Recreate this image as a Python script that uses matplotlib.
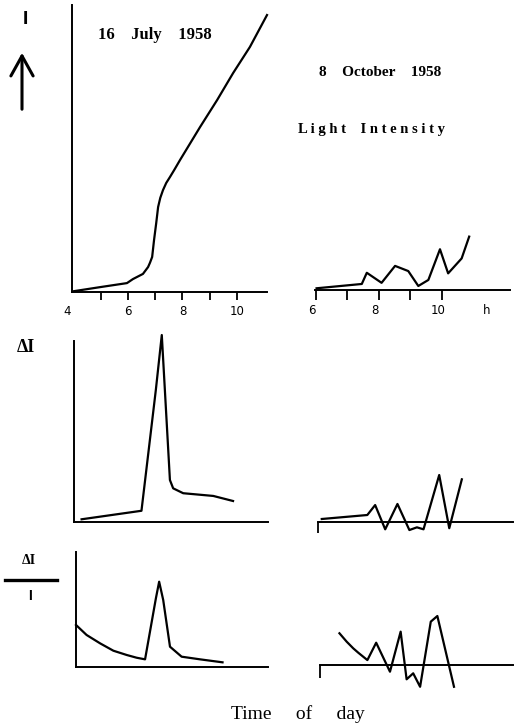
import matplotlib
matplotlib.use("Agg")
import matplotlib.pyplot as plt
from matplotlib.lines import Line2D

W, H = 518, 724

# 16 July 1958: light intensity I (arbitrary units) against time of day (h)
july_hours = [4.0, 4.96, 5.95, 6.17, 6.54, 6.73, 6.80, 6.88, 6.95, 7.03, 7.10,
              7.18, 7.28, 7.40, 7.54, 7.70, 7.91, 8.65, 9.28, 9.87, 10.49, 11.12]
july_intensity = [0.3, 1.7, 3.1, 4.5, 6.3, 8.7, 10.2, 12.2, 18.1, 24.0, 29.6,
                  32.8, 35.5, 38.0, 40.1, 42.6, 46.0, 57.5, 66.9, 76.3, 85.4, 96.5]
july_delta_hours = [4.28, 6.49, 7.02, 7.24, 7.54, 7.66, 8.03, 9.14, 9.87]
july_delta = [1.5, 6.2, 72.9, 103.3, 23.2, 18.6, 15.9, 14.4, 11.6]
july_rel_hours = [4.0, 4.39, 4.89, 5.38, 5.87, 6.24, 6.55, 6.95, 7.07,
                  7.22, 7.47, 7.90, 8.58, 9.41]
july_rel = [36.3, 27.6, 20.3, 13.9, 10.2, 7.8, 6.4, 59.5, 73.9,
            58.0, 17.4, 8.7, 6.4, 3.8]

# 8 October 1958
oct_hours = [6.02, 7.46, 7.62, 8.09, 8.52, 8.94, 9.26, 9.58, 9.95, 10.21, 10.64, 10.88]
oct_intensity = [0.6, 2.1, 6.0, 2.5, 8.4, 6.6, 1.4, 3.5, 14.2, 5.8, 11.0, 18.6]
oct_delta_hours = [6.15, 7.60, 7.85, 8.17, 8.56, 8.94, 9.18, 9.39, 9.89, 10.21, 10.61]
oct_delta = [1.5, 3.7, 9.2, -4.2, 9.8, -4.6, -3.1, -4.2, 25.8, -3.6, 23.4]
oct_rel_hours = [6.65, 6.88, 7.09, 7.25, 7.54, 7.82, 8.26, 8.60, 8.79,
                 9.00, 9.22, 9.56, 9.77, 10.30]
oct_rel = [27.6, 20.3, 14.5, 10.7, 4.3, 19.4, -5.8, 29.0, -12.4,
           -7.2, -18.9, 37.7, 42.6, -18.9]

july_ticks = [5, 6, 7, 8, 9, 10]
july_labels = ["4", "6", "8", "10"]
oct_ticks = [6, 7, 8, 9, 10]
oct_labels = ["6", "8", "10"]

SERIF = "Liberation Serif"
LW = 1.6


def box(left, top, right, bottom):
    # pixel box -> figure fraction
    return [left / W, 1 - bottom / H, (right - left) / W, (bottom - top) / H]


def fx(x):
    return x / W


def fy(y):
    return 1 - y / H


def bare(ax, left_spine=True):
    ax.set_facecolor("none")
    for s in ["top", "right"]:
        ax.spines[s].set_visible(False)
    ax.spines["left"].set_visible(left_spine)
    for s in ax.spines.values():
        s.set_linewidth(1.4)
        s.set_color("black")
    ax.set_yticks([])


fig = plt.figure(figsize=(W / 100, H / 100), dpi=100)
fig.patch.set_facecolor("white")

# ---- top left: I, 16 July
ax1 = fig.add_axes(box(71.7, 5, 267, 292))
bare(ax1)
ax1.plot(july_hours, july_intensity, color="black", lw=LW, clip_on=False)
ax1.set_xlim(3.91, 11.12)
ax1.set_ylim(0, 100)
ax1.set_xticks(july_ticks)
ax1.set_xticklabels([])
ax1.tick_params(axis="x", direction="out", length=6, width=1.3)
for v, lab in zip([4, 6, 8, 10], july_labels):
    ax1.text(v - (0.25 if v == 4 else 0), -0.068, lab, transform=ax1.get_xaxis_transform(),
             ha="center", va="center", fontsize=8.5)

# ---- top right: I, 8 October
ax2 = fig.add_axes(box(315, 3, 510, 290))
bare(ax2, left_spine=False)
ax2.plot(oct_hours, oct_intensity, color="black", lw=LW, clip_on=False)
ax2.set_xlim(5.97, 12.18)
ax2.set_ylim(0, 100)
ax2.set_xticks(oct_ticks)
ax2.set_xticklabels([])
ax2.tick_params(axis="x", direction="out", length=7, width=1.3)
for v, lab in zip([6, 8, 10], oct_labels):
    ax2.text(v - 0.12, -0.07, lab, transform=ax2.get_xaxis_transform(),
             ha="center", va="center", fontsize=8.5)
ax2.text(11.45, -0.07, "h", transform=ax2.get_xaxis_transform(),
         ha="center", va="center", fontsize=8.5)

# ---- middle left: delta I, July
ax3 = fig.add_axes(box(74, 341, 268, 522))
bare(ax3)
ax3.plot(july_delta_hours, july_delta, color="black", lw=LW, clip_on=False)
ax3.set_xlim(4.0, 11.16)
ax3.set_ylim(0, 100)
ax3.set_xticks([])

# ---- middle right: delta I, October
ax4 = fig.add_axes(box(318, 341, 512.7, 540))
bare(ax4, left_spine=False)
ax4.spines["bottom"].set_position(("data", 0))
ax4.plot(oct_delta_hours, oct_delta, color="black", lw=LW, clip_on=False)
ax4.set_xlim(6.03, 12.23)
ax4.set_ylim(-10.1, 99.8)
ax4.set_xticks([6.03])
ax4.set_xticklabels([])
ax4.tick_params(axis="x", direction="out", length=8, width=1.3)

# ---- bottom left: delta I / I, July
ax5 = fig.add_axes(box(76, 551.7, 268.3, 666.7))
bare(ax5)
ax5.plot(july_rel_hours, july_rel, color="black", lw=LW, clip_on=False)
ax5.set_xlim(4.0, 11.1)
ax5.set_ylim(0, 100)
ax5.set_xticks([])

# ---- bottom right: delta I / I, October
ax6 = fig.add_axes(box(320, 551.7, 513.3, 690))
bare(ax6, left_spine=False)
ax6.spines["bottom"].set_position(("data", 0))
ax6.plot(oct_rel_hours, oct_rel, color="black", lw=LW, clip_on=False)
ax6.set_xlim(6.03, 12.19)
ax6.set_ylim(-21.7, 98.5)
ax6.set_xticks([6.03])
ax6.set_xticklabels([])
ax6.tick_params(axis="x", direction="out", length=9, width=1.3)

# ---- texts
fig.text(fx(154.5), fy(35), "16    July    1958", family=SERIF, weight="bold",
         fontsize=12, ha="center", va="center")
fig.text(fx(380), fy(72), "8    October    1958", family=SERIF, weight="bold",
         fontsize=11, ha="center", va="center")
fig.text(fx(372), fy(130), "L i g h t    I n t e n s i t y", family=SERIF, weight="bold",
         fontsize=10.5, ha="center", va="center")
fig.text(fx(297.5), fy(714), "Time     of     day", family=SERIF,
         fontsize=14, ha="center", va="center")

# y labels
fig.text(fx(25), fy(19), "I", family="Liberation Sans", weight="bold",
         fontsize=14, ha="center", va="center")
fig.add_artist(plt.Annotation("", xy=(fx(22), fy(50)), xytext=(fx(22), fy(112)),
                              xycoords="figure fraction",
                              arrowprops=dict(arrowstyle="->,head_length=0.9,head_width=0.5",
                                              lw=2.2, color="black", mutation_scale=16)))
fig.text(fx(26), fy(347), "ΔI", family=SERIF, weight="bold",
         fontsize=13, ha="center", va="center")
fig.text(fx(29), fy(560), "ΔI", family=SERIF, weight="bold",
         fontsize=10, ha="center", va="center")
fig.add_artist(Line2D([fx(5), fx(57)], [fy(579.5), fy(579.5)], color="black", lw=2.4))
fig.text(fx(30), fy(596), "I", family="Liberation Sans", weight="bold",
         fontsize=10, ha="center", va="center")

fig.savefig("out.png", dpi=100, facecolor="white")
